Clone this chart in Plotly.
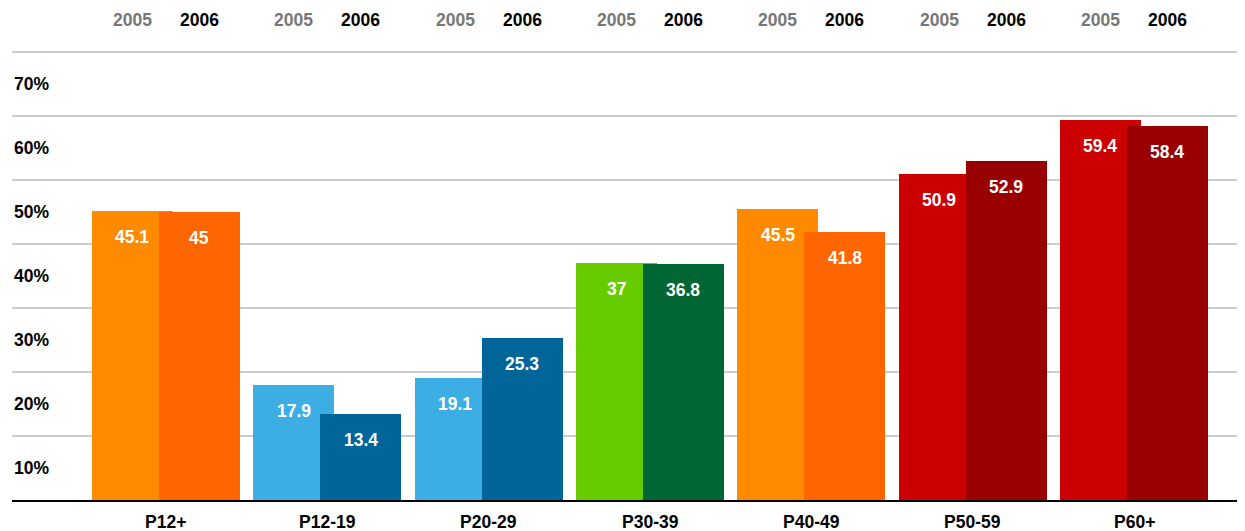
import plotly.graph_objects as go

categories = ["P12+", "P12-19", "P20-29", "P30-39", "P40-49", "P50-59", "P60+"]
years = ["2005", "2006"]
v2005 = [45.1, 17.9, 19.1, 37, 45.5, 50.9, 59.4]
v2006 = [45, 13.4, 25.3, 36.8, 41.8, 52.9, 58.4]
colors2005 = ["#FF8A00", "#3DAEE3", "#3DAEE3", "#66CC00", "#FF8A00", "#CC0000", "#CC0000"]
colors2006 = ["#FF6600", "#006699", "#006699", "#006633", "#FF6600", "#990000", "#990000"]
y_ticks = [10, 20, 30, 40, 50, 60, 70]
y_labels = ["10%", "20%", "30%", "40%", "50%", "60%", "70%"]

FONT = "Liberation Sans, Arial, sans-serif"
FS = 17.5
idx = list(range(len(categories)))
W = 0.502
OFF = [-0.4587, -0.0434]

fig = go.Figure()
for vals, cols, off in [(v2005, colors2005, OFF[0]), (v2006, colors2006, OFF[1])]:
    fig.add_trace(go.Bar(x=idx, y=vals, width=W, offset=off,
                         marker=dict(color=cols, line=dict(width=0)),
                         hoverinfo="skip", showlegend=False))

ann = []
for series, off in [(v2005, OFF[0]), (v2006, OFF[1])]:
    for i, v in enumerate(series):
        ann.append(dict(x=i + off + W / 2, y=v, xref="x", yref="y", text=f"<b>{v:g}</b>",
                        showarrow=False, yshift=-26, yanchor="middle",
                        font=dict(family=FONT, size=FS, color="white")))
for i in idx:
    for yr, off, col in [(years[0], OFF[0], "#777777"), (years[1], OFF[1], "#000000")]:
        ann.append(dict(x=i + off + W / 2, y=1, xref="x", yref="paper", text=f"<b>{yr}</b>",
                        showarrow=False, yshift=32, yanchor="middle",
                        font=dict(family=FONT, size=FS, color=col)))
for t, lab in zip(y_ticks, y_labels):
    ann.append(dict(x=0, y=t - 5, xref="paper", yref="y", text=f"<b>{lab}</b>",
                    showarrow=False, xanchor="left", yanchor="middle", xshift=0,
                    font=dict(family=FONT, size=FS, color="#000000")))
for i, c in enumerate(categories):
    ann.append(dict(x=i, y=0, xref="x", yref="y", text=f"<b>{c}</b>",
                    showarrow=False, yshift=-22, yanchor="middle",
                    font=dict(family=FONT, size=FS, color="#000000")))

fig.update_layout(
    width=1237, height=523,
    margin=dict(l=4, r=0, t=44, b=31),
    paper_bgcolor="white", plot_bgcolor="white",
    barmode="overlay", bargap=0,
    annotations=ann,
    shapes=[dict(type="line", xref="paper", yref="paper", x0=0, x1=1, y0=1, y1=1,
                 line=dict(color="#CCCCCC", width=2), layer="below")],
    xaxis=dict(range=[-0.9545, 6.688], tickvals=idx, showticklabels=False,
               showgrid=False, zeroline=False, showline=True, linecolor="#000000", linewidth=2,
               ticks=""),
    yaxis=dict(range=[0, 70], tickvals=y_ticks, showticklabels=False, showgrid=True,
               gridcolor="#CCCCCC", gridwidth=1.5, zeroline=False, showline=False, ticks=""),
)
fig.write_html("out.html")
